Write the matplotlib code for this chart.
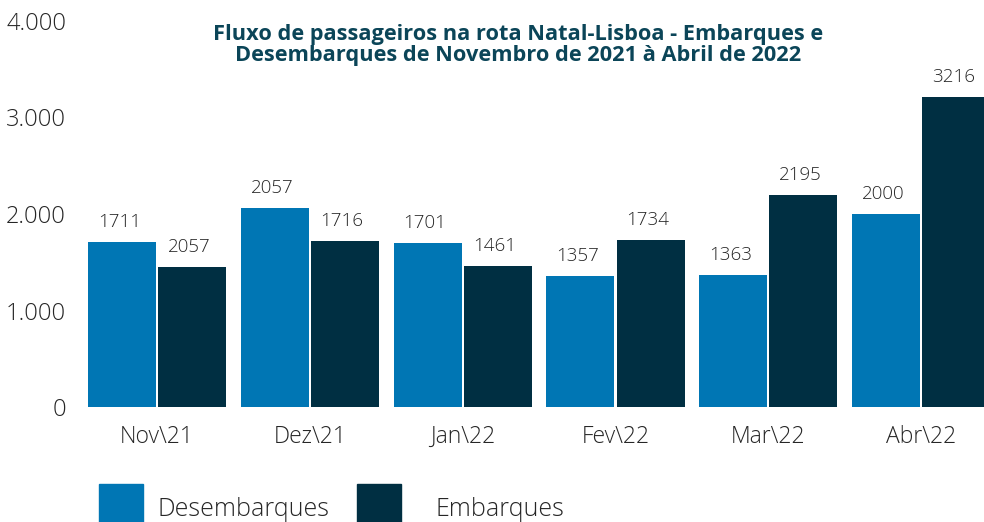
import matplotlib
matplotlib.use("Agg")
import matplotlib.pyplot as plt
from matplotlib.patches import Rectangle
import numpy as np

plt.rcParams['font.family'] = ['Open Sans', 'DejaVu Sans']

meses = ['Nov\\21', 'Dez\\21', 'Jan\\22', 'Fev\\22', 'Mar\\22', 'Abr\\22']
desembarques = [1711, 2057, 1701, 1357, 1363, 2000]
embarques = [1450, 1716, 1461, 1734, 2195, 3216]
# rótulos como aparecem no original (Nov\21 mostra 2057)
rot_desemb = ['1711', '2057', '1701', '1357', '1363', '2000']
rot_emb = ['2057', '1716', '1461', '1734', '2195', '3216']
yticks = [0, 1000, 2000, 3000, 4000]
ytick_labels = ['0', '1.000', '2.000', '3.000', '4.000']

c_des = '#0076b4'
c_emb = '#002f42'
c_txt = '#262626'
leve = 300

fig = plt.figure(figsize=(9.84, 5.22), dpi=100)
ax = fig.add_axes([80/984, 115/522, 904/984, 386/522])

x = np.arange(len(meses))
w = 0.445
off = w/2 + 0.007
ax.bar(x - off, desembarques, w, color=c_des)
ax.bar(x + off, embarques, w, color=c_emb)

for i in range(len(meses)):
    ax.annotate(rot_desemb[i], (x[i] - off, desembarques[i]), xytext=(-2, 8),
                textcoords='offset points', ha='center', va='bottom',
                fontsize=13.5, color=c_txt, fontweight=leve)
    ax.annotate(rot_emb[i], (x[i] + off, embarques[i]), xytext=(-2, 8),
                textcoords='offset points', ha='center', va='bottom',
                fontsize=13.5, color=c_txt, fontweight=leve)

ax.set_xlim(-0.504, 5.412)
ax.set_ylim(0, 4000)
ax.set_xticks(x)
ax.set_xticklabels(meses, fontsize=16.5, color=c_txt, fontweight=leve)
ax.set_yticks(yticks)
ax.set_yticklabels(ytick_labels, fontsize=17, color=c_txt, fontweight=leve)
ax.tick_params(axis='x', length=0, pad=13)
ax.tick_params(axis='y', length=0, pad=10)
for s in ax.spines.values():
    s.set_visible(False)

fig.text(518/984, 1 - 45/522, 'Fluxo de passageiros na rota Natal-Lisboa - Embarques e\n'
         'Desembarques de Novembro de 2021 à Abril de 2022',
         ha='center', va='center', fontsize=15.7, fontweight='bold',
         color='#0b4558', linespacing=1.0)

# legenda
fig.patches.append(Rectangle((99/984, 0), 44/984, 38/522, transform=fig.transFigure,
                             color=c_des))
fig.patches.append(Rectangle((357/984, 0), 44/984, 38/522, transform=fig.transFigure,
                             color=c_emb))
fig.text(157/984, 1 - 510/522, 'Desembarques', fontsize=18, color=c_txt,
         va='center', fontweight=leve)
fig.text(436/984, 1 - 510/522, 'Embarques', fontsize=18, color=c_txt,
         va='center', fontweight=leve)

fig.savefig('out.png', dpi=100)
